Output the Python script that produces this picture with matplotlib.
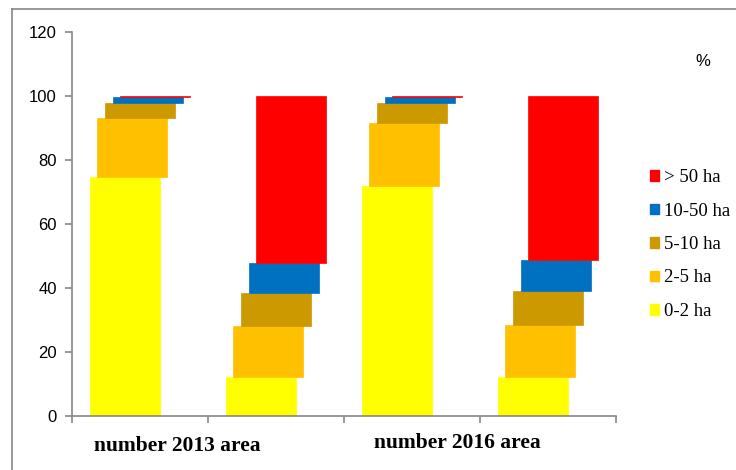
import matplotlib
matplotlib.use("Agg")
import matplotlib.pyplot as plt
from matplotlib.lines import Line2D
from matplotlib.patches import Patch
import numpy as np

groups = ["number 2013", "area 2013", "number 2016", "area 2016"]
series = ["0-2 ha", "2-5 ha", "5-10 ha", "10-50 ha", "> 50 ha"]
values = {
    "0-2 ha":   [74.6, 12.1, 71.9, 12.1],
    "2-5 ha":   [18.6, 16.1, 19.8, 16.4],
    "5-10 ha":  [4.7, 10.2, 6.0, 10.6],
    "10-50 ha": [1.9, 9.5, 2.1, 9.6],
    "> 50 ha":  [0.2, 52.1, 0.2, 51.3],
}
colors = {
    "0-2 ha": "#FFFF00",
    "2-5 ha": "#FFC000",
    "5-10 ha": "#CC9900",
    "10-50 ha": "#0070C0",
    "> 50 ha": "#FF0000",
}
xlabels = ["number 2013 area", "number 2016 area"]
yticks = [0, 20, 40, 60, 80, 100, 120]

fig = plt.figure(figsize=(7.36, 4.70), dpi=100)
ax = fig.add_axes([72/736, 1 - 416/470, (616 - 72)/736, (416 - 32)/470])

x = np.arange(len(groups))
width = 0.515
shift = 0.056
bottom = np.zeros(len(groups))
for i, s in enumerate(series):
    v = np.array(values[s])
    ax.bar(x + (i - 2) * shift, v, width, bottom=bottom, color=colors[s],
           edgecolor=colors[s], linewidth=0.5, zorder=2 + i)
    bottom += v

ax.set_xlim(-0.5, 3.5)
ax.set_ylim(0, 120)
ax.set_yticks(yticks)
ax.set_yticklabels([str(t) for t in yticks], fontsize=12, family="Liberation Sans")
ax.set_xticks([-0.5, 0.5, 1.5, 2.5, 3.5])
ax.set_xticklabels([])
for sp in ["top", "right"]:
    ax.spines[sp].set_visible(False)
for sp in ["left", "bottom"]:
    ax.spines[sp].set_color("#868686")
    ax.spines[sp].set_linewidth(1.2)
ax.tick_params(axis="both", direction="out", color="#868686", length=5, width=1.2)
ax.tick_params(axis="y", pad=6)

ax.text(0.278, -9.5, xlabels[0], ha="center", va="center", fontsize=15.5,
        fontweight="bold", family="Liberation Serif")
ax.text(2.33, -8.3, xlabels[1], ha="center", va="center", fontsize=15.5,
        fontweight="bold", family="Liberation Serif")

fig.text(703/736, 1 - 61/470, "%", ha="center", va="center", fontsize=12,
         family="Liberation Sans")

handles = [Patch(facecolor=colors[s], edgecolor=colors[s]) for s in series[::-1]]
leg = fig.legend(handles, series[::-1], loc="upper left",
                 bbox_to_anchor=(650/736, 1 - 169/470), frameon=False,
                 borderpad=0, borderaxespad=0,
                 prop={"family": "Liberation Serif", "size": 13.5},
                 handlelength=0.48, handleheight=0.48, handletextpad=0.25,
                 labelspacing=0.88)

fig.add_artist(Line2D([12/736, 1], [1 - 9/470, 1 - 9/470], color="#868686", lw=1.2))
fig.add_artist(Line2D([12/736, 12/736], [0, 1 - 9/470], color="#868686", lw=1.2))

fig.savefig("out.png", dpi=100)
